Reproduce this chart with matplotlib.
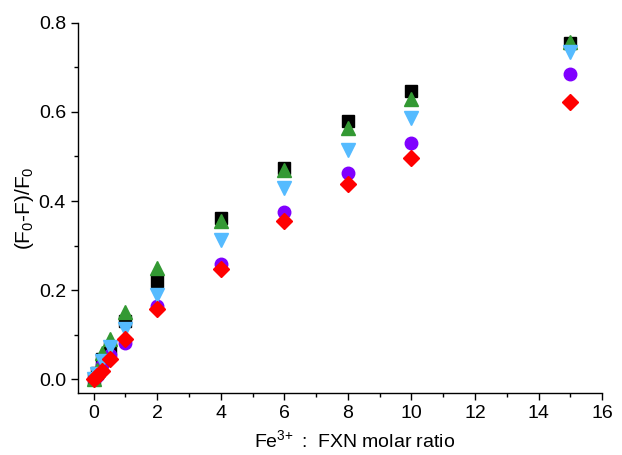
import numpy as np
import matplotlib
matplotlib.use('Agg')
import matplotlib.pyplot as plt
from matplotlib.ticker import MultipleLocator, FormatStrFormatter

plt.rcParams['font.family'] = ['Liberation Sans', 'DejaVu Sans']
plt.rcParams['mathtext.fontset'] = 'custom'
plt.rcParams['mathtext.rm'] = 'Liberation Sans'
plt.rcParams['mathtext.it'] = 'Liberation Sans'

# relacion molar Fe3+ : FXN
razon = [0, 0.1, 0.25, 0.5, 1, 2, 4, 6, 8, 10, 15]

# (F0-F)/F0 de cada serie
serie_negra = [0.0, 0.015, 0.045, 0.07, 0.131, 0.220, 0.363, 0.474, 0.580, 0.647, 0.754]
serie_morada = [0.0, 0.008, 0.032, 0.055, 0.081, 0.165, 0.258, 0.376, 0.464, 0.530, 0.685]
serie_verde = [0.0, 0.02, 0.059, 0.09, 0.151, 0.249, 0.355, 0.470, 0.564, 0.629, 0.757]
serie_azul = [0.0, 0.012, 0.041, 0.072, 0.113, 0.189, 0.312, 0.429, 0.515, 0.587, 0.735]
serie_roja = [0.0, 0.008, 0.018, 0.045, 0.09, 0.158, 0.247, 0.355, 0.439, 0.497, 0.622]

fig = plt.figure(figsize=(6.22, 4.55), dpi=100)
ax = fig.add_axes([0.125, 0.136, 0.843, 0.814])

ax.plot(razon, serie_negra, 's', color='black', markersize=8, linestyle='none')
ax.plot(razon, serie_morada, 'o', color='#8000FF', markersize=9, linestyle='none')
ax.plot(razon, serie_verde, '^', color='#339933', markersize=10, linestyle='none')
ax.plot(razon, serie_azul, 'v', color='#55BBFF', markersize=10, linestyle='none')
ax.plot(razon, serie_roja, 'D', color='#FF0000', markersize=8, linestyle='none')

ax.set_xlim(-0.5, 16)
ax.set_ylim(-0.031, 0.8)

ax.xaxis.set_major_locator(MultipleLocator(2))
ax.xaxis.set_minor_locator(MultipleLocator(1))
ax.yaxis.set_major_locator(MultipleLocator(0.2))
ax.yaxis.set_minor_locator(MultipleLocator(0.1))
ax.yaxis.set_major_formatter(FormatStrFormatter('%.1f'))

ax.spines['top'].set_visible(False)
ax.spines['right'].set_visible(False)
for lado in ['left', 'bottom']:
    ax.spines[lado].set_linewidth(1.0)

ax.tick_params(which='major', direction='out', length=5, width=1, labelsize=14)
ax.tick_params(which='minor', direction='out', length=3, width=1)

ax.set_xlabel('Fe$^{3\\!+}$ :  FXN molar ratio', fontsize=14)
ax.set_ylabel('(F$_0$-F)/F$_0$', fontsize=15)
ax.xaxis.set_label_coords(0.527, -0.097)
ax.yaxis.set_label_coords(-0.08, 0.5)

fig.savefig('out.png', dpi=100)
